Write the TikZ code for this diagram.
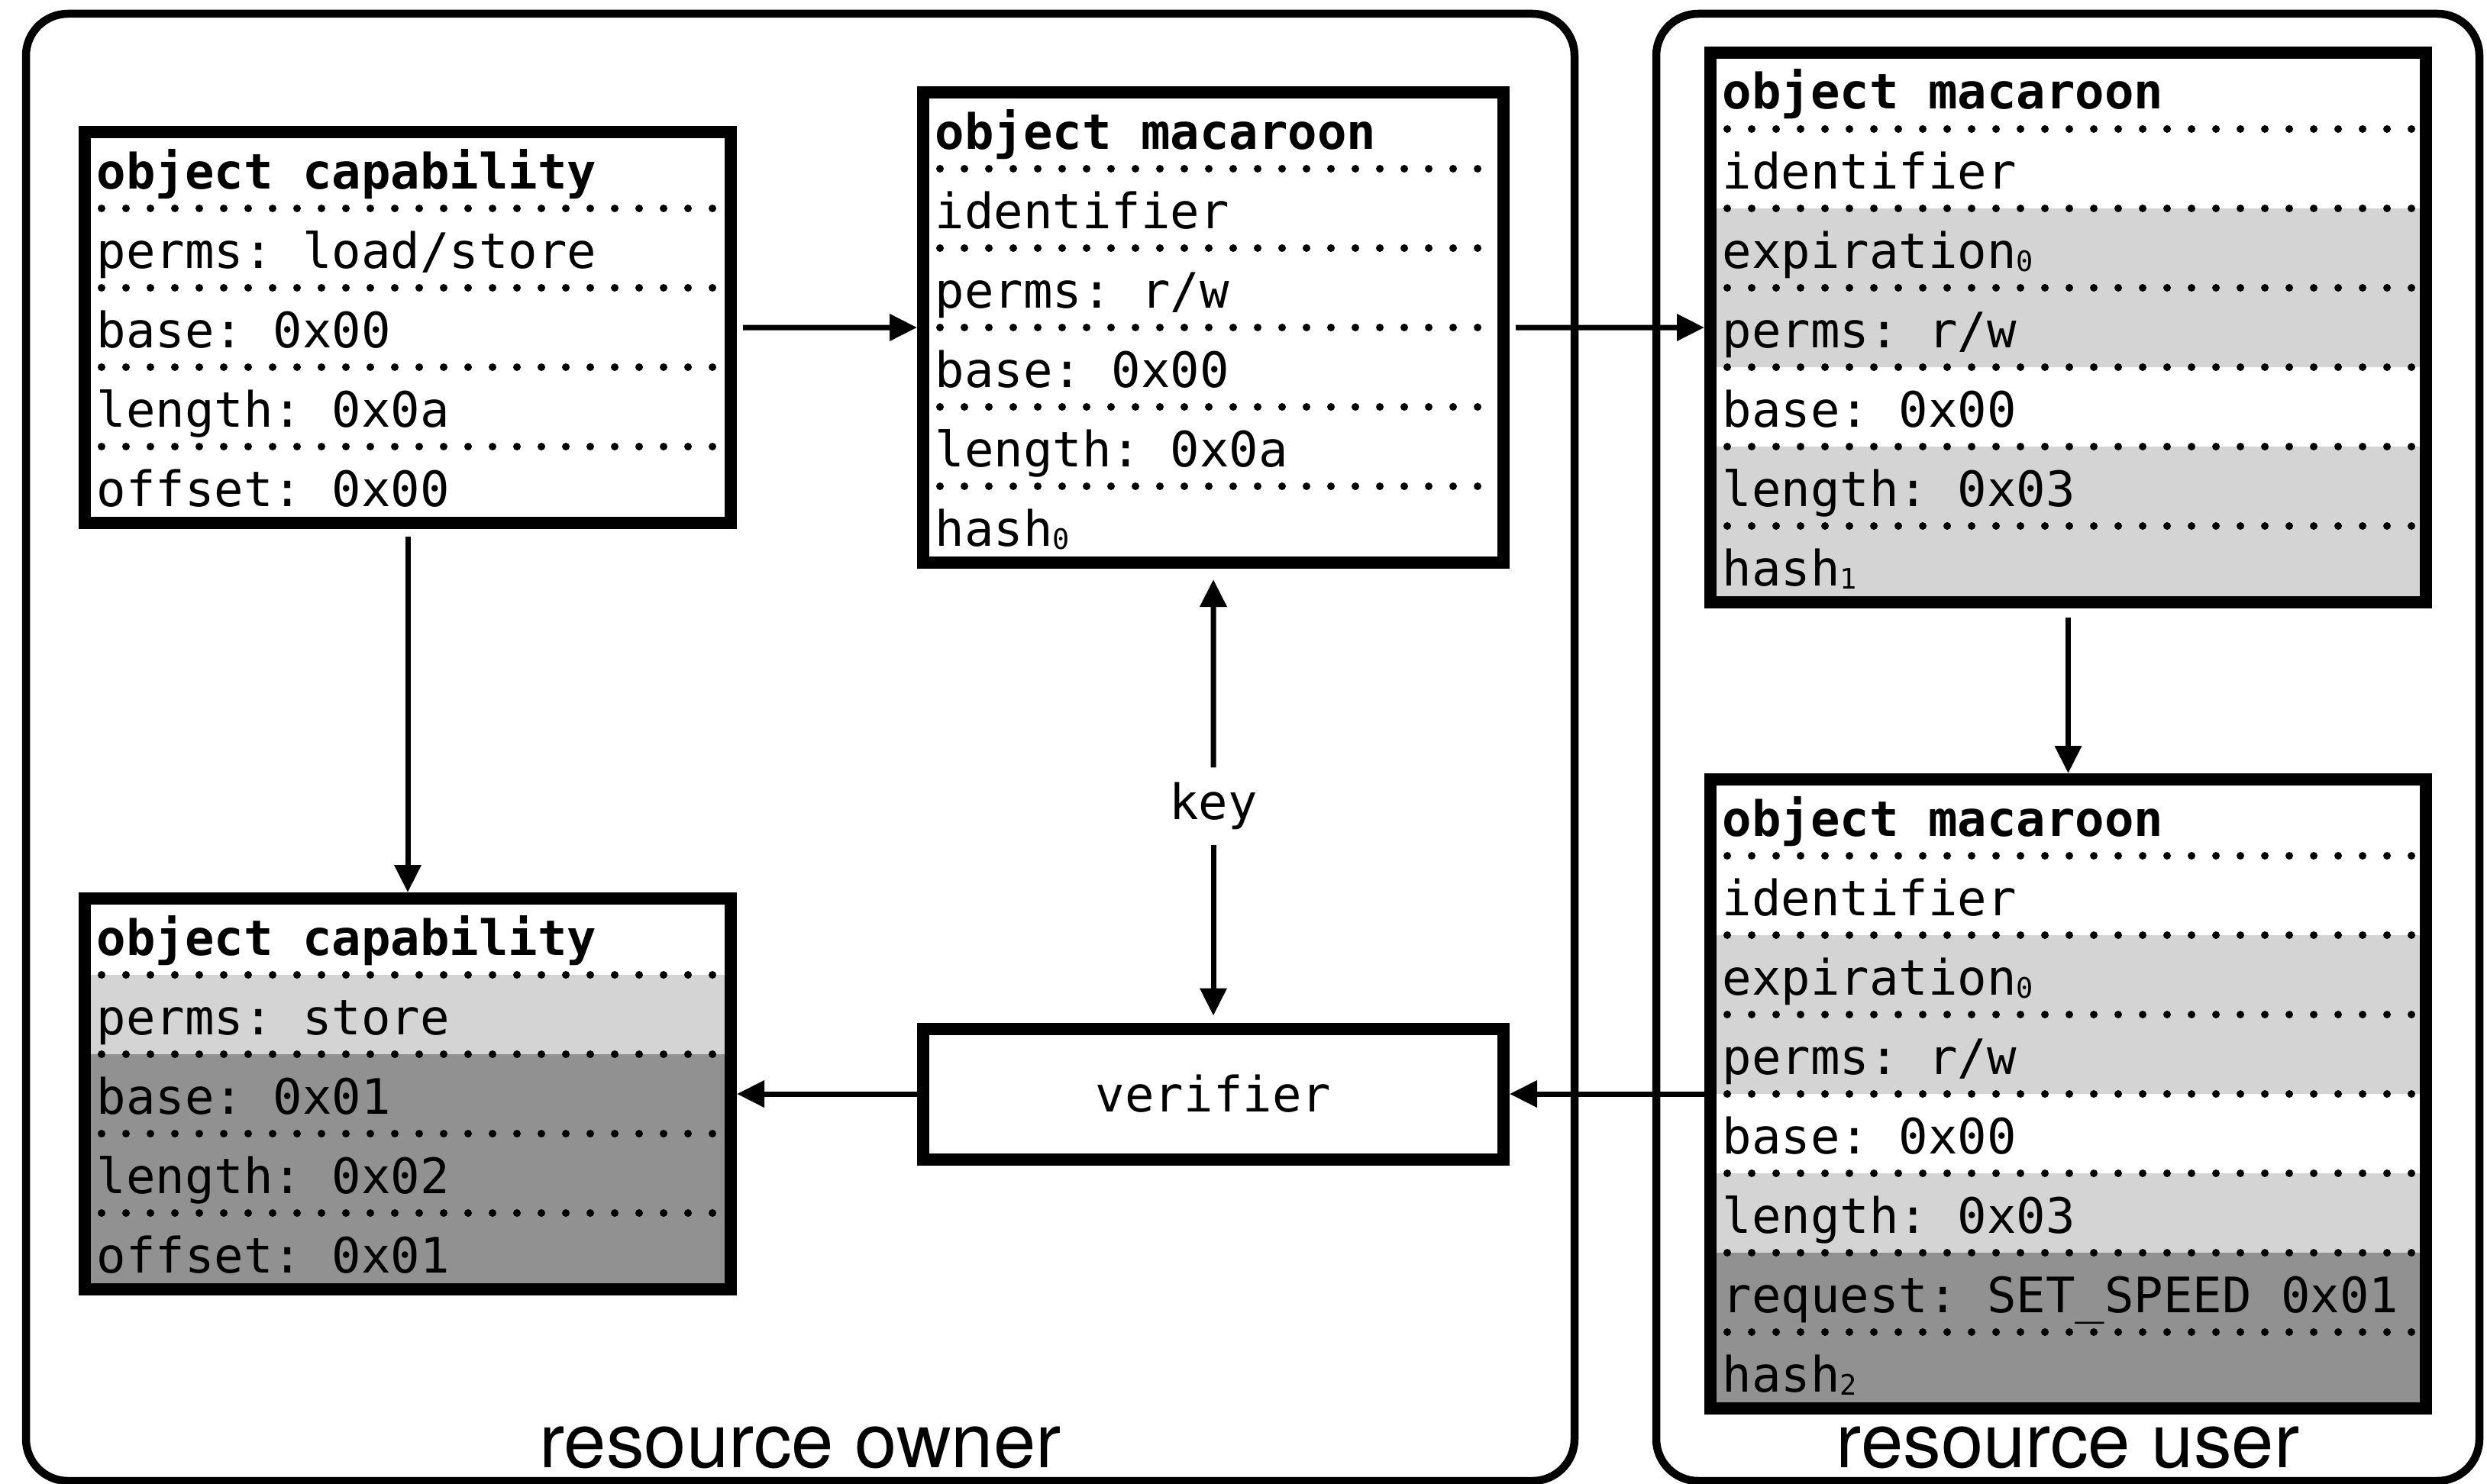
\documentclass[tikz,border=0pt]{standalone}
\usepackage{fontspec}
\setmonofont{DejaVu Sans Mono}
\setsansfont{TeX Gyre Heros}
\usetikzlibrary{arrows.meta}
\definecolor{lightband}{gray}{0.83}
\definecolor{darkband}{gray}{0.57}
\newcommand{\low}[1]{\raisebox{-0.04cm}{\fontsize{10.5}{10.5}\selectfont#1}}

\begin{document}
\begin{tikzpicture}[x=1cm, y=-1cm, >={Triangle[length=3.6mm, width=3.4mm]},
  frame/.style={line width=0.105cm, rounded corners=0.55cm},
  box/.style={draw, line width=0.16cm, inner sep=0pt},
  dotrule/.style={line width=0.1cm, line cap=round, dash pattern=on 0pt off 0.32cm},
  mono/.style={font=\ttfamily\fontsize{18.2}{22}\selectfont},
  field/.style={mono, anchor=base west, inner sep=0pt},
  flow/.style={->, line width=0.07cm},
  tag/.style={font=\sffamily\fontsize{28.3}{34}\selectfont, anchor=base}]

  \useasboundingbox (0,0) rectangle (32.57,19.43);

  \draw[frame] (0.34,0.18) rectangle (20.62,19.40);
  \draw[frame] (21.69,0.18) rectangle (32.47,19.40);
  \node[tag] (owner) at (10.48,19.22) {resource owner};
  \node[tag] (user) at (27.08,19.22) {resource user};

  % capability held by the owner
  \begin{scope}[shift={(1.03,1.65)}]
    \foreach \txt/\tone [count=\i] in {{object capability}/white, {perms: load/store}/white,
        {base: 0x00}/white, {length: 0x0a}/white, {offset: 0x00}/white} {
      \fill[\tone] (0.08,{0.04+(\i-1)*1.04}) rectangle (8.54,{1.08+(\i-1)*1.04});
      \ifnum\i>1 \draw[dotrule] (0.30,{0.04+(\i-1)*1.04}) -- (8.36,{0.04+(\i-1)*1.04}); \fi
      \node[field] (capA-\i) at (0.23,{0.82+(\i-1)*1.04}) {\ifnum\i=1\relax\bfseries\fi\txt};
    }
    \node[box, minimum width=8.46cm, minimum height=5.12cm] (capA) at (4.31,2.64) {};
  \end{scope}

  % derived capability
  \begin{scope}[shift={(1.03,11.69)}]
    \foreach \txt/\tone [count=\i] in {{object capability}/white, {perms: store}/lightband,
        {base: 0x01}/darkband, {length: 0x02}/darkband, {offset: 0x01}/darkband} {
      \fill[\tone] (0.08,{0.04+(\i-1)*1.04}) rectangle (8.54,{1.08+(\i-1)*1.04});
      \ifnum\i>1 \draw[dotrule] (0.30,{0.04+(\i-1)*1.04}) -- (8.36,{0.04+(\i-1)*1.04}); \fi
      \node[field] (capE-\i) at (0.23,{0.82+(\i-1)*1.04}) {\ifnum\i=1\relax\bfseries\fi\txt};
    }
    \node[box, minimum width=8.46cm, minimum height=5.12cm] (capE) at (4.31,2.64) {};
  \end{scope}

  % minted macaroon
  \begin{scope}[shift={(12.01,1.13)}]
    \foreach \txt/\tone [count=\i] in {{object macaroon}/white, {identifier}/white,
        {perms: r/w}/white, {base: 0x00}/white, {length: 0x0a}/white, {hash\low{0}}/white} {
      \fill[\tone] (0.08,{0.04+(\i-1)*1.04}) rectangle (7.68,{1.08+(\i-1)*1.04});
      \ifnum\i>1 \draw[dotrule] (0.30,{0.04+(\i-1)*1.04}) -- (7.50,{0.04+(\i-1)*1.04}); \fi
      \node[field] (macB-\i) at (0.23,{0.82+(\i-1)*1.04}) {\ifnum\i=1\relax\bfseries\fi\txt};
    }
    \node[box, minimum width=7.60cm, minimum height=6.16cm] (macB) at (3.88,3.16) {};
  \end{scope}

  % attenuated macaroon
  \begin{scope}[shift={(22.32,0.61)}]
    \foreach \txt/\tone [count=\i] in {{object macaroon}/white, {identifier}/white,
        {expiration\low{0}}/lightband, {perms: r/w}/lightband, {base: 0x00}/white,
        {length: 0x03}/lightband, {hash\low{1}}/lightband} {
      \fill[\tone] (0.08,{0.04+(\i-1)*1.04}) rectangle (9.45,{1.08+(\i-1)*1.04});
      \ifnum\i>1 \draw[dotrule] (0.30,{0.04+(\i-1)*1.04}) -- (9.27,{0.04+(\i-1)*1.04}); \fi
      \node[field] (macC-\i) at (0.23,{0.82+(\i-1)*1.04}) {\ifnum\i=1\relax\bfseries\fi\txt};
    }
    \node[box, minimum width=9.37cm, minimum height=7.20cm] (macC) at (4.765,3.68) {};
  \end{scope}

  % macaroon carrying the request
  \begin{scope}[shift={(22.32,10.13)}]
    \foreach \txt/\tone [count=\i] in {{object macaroon}/white, {identifier}/white,
        {expiration\low{0}}/lightband, {perms: r/w}/lightband, {base: 0x00}/white,
        {length: 0x03}/lightband, {request: SET\_SPEED 0x01}/darkband, {hash\low{2}}/darkband} {
      \fill[\tone] (0.08,{0.04+(\i-1)*1.04}) rectangle (9.45,{1.08+(\i-1)*1.04});
      \ifnum\i>1 \draw[dotrule] (0.30,{0.04+(\i-1)*1.04}) -- (9.27,{0.04+(\i-1)*1.04}); \fi
      \node[field] (macD-\i) at (0.23,{0.82+(\i-1)*1.04}) {\ifnum\i=1\relax\bfseries\fi\txt};
    }
    \node[box, minimum width=9.37cm, minimum height=8.24cm] (macD) at (4.765,4.20) {};
  \end{scope}

  \node[box, mono, minimum width=7.60cm, minimum height=1.71cm] (verifier) at (15.89,14.33) {verifier};
  \node[mono, inner sep=0.19cm] (keylbl) at (15.89,10.56) {key};

  \draw[flow, shorten <=0.08cm] (capA.east) -- (macB.west);
  \draw[flow, shorten <=0.08cm] (macB.east) -- (macC.west);
  \draw[flow, shorten <=0.12cm] (macC.south) -- (macD.north);
  \draw[flow, shorten <=0.1cm] (capA.south) -- (capE.north);
  \draw[flow, shorten >=0.14cm] (keylbl) -- (macB.south);
  \draw[flow, shorten >=0.09cm] (keylbl) -- (verifier.north);
  \draw[flow] (macD.west) -- (verifier.east);
  \draw[flow] (verifier.west) -- (capE.east);
\end{tikzpicture}
\end{document}
